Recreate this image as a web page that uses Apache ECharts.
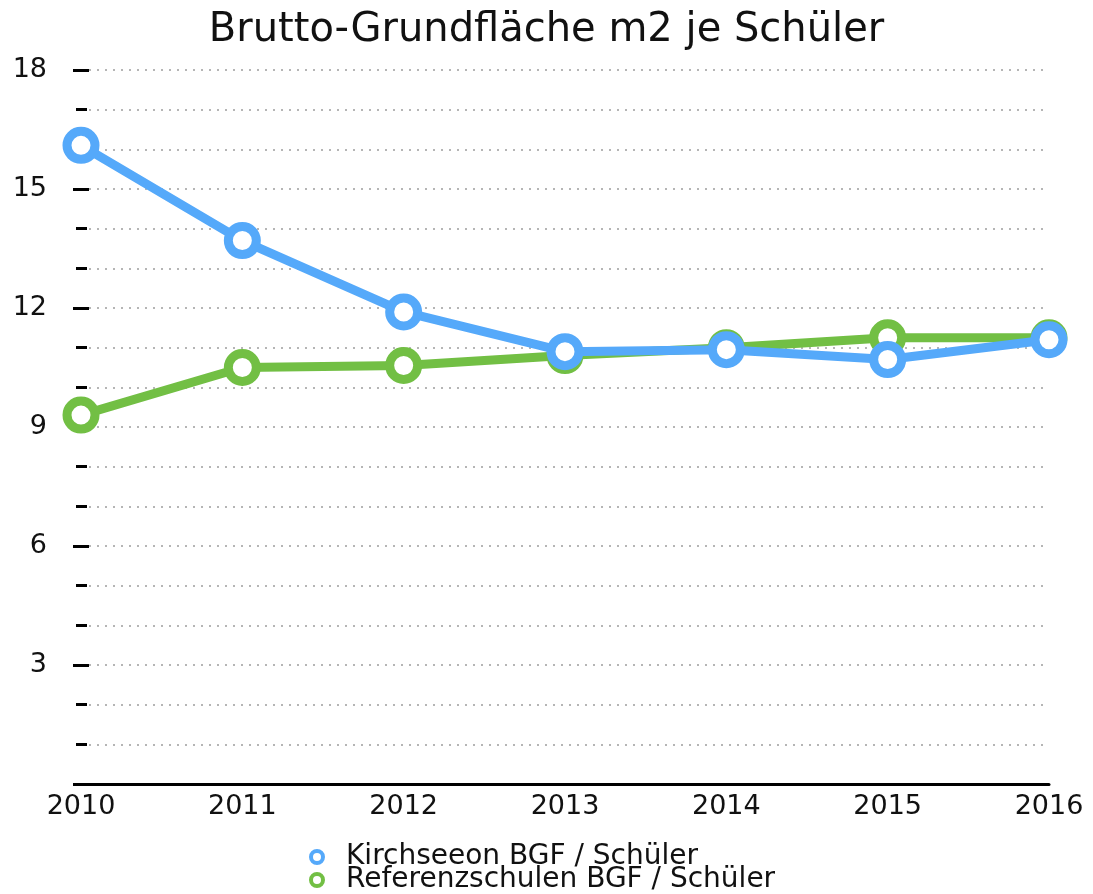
<!DOCTYPE html>
<html>
<head>
<meta charset="utf-8">
<script src="https://cdn.jsdelivr.net/npm/echarts@6/dist/echarts.min.js"></script>
<style>
  html, body { margin: 0; padding: 0; background: #fff; }
  #chart { width: 1093px; height: 894px; }
</style>
</head>
<body>
<div id="chart"></div>
<script>
var years = ["2010", "2011", "2012", "2013", "2014", "2015", "2016"];
var kirchseeon = [16.1, 13.7, 11.9, 10.9, 10.95, 10.7, 11.2];
var referenz = [9.3, 10.5, 10.55, 10.8, 11.0, 11.25, 11.25];
var seriesNames = ["Kirchseeon BGF / Schüler", "Referenzschulen BGF / Schüler"];

var font = "DejaVu Sans";
var blue = "#55a9fa";
var green = "#72bf44";

var chart = echarts.init(document.getElementById("chart"));

// y achsen: 0 = labels + äussere ticks, 1 = innere ticks, 2/3 = kleine ticks + raster
function yAxisPart(interval, inside, len, showLabel, showSplit) {
  return {
    type: "value",
    position: "left",
    min: 0,
    max: 18,
    interval: interval,
    axisLine: { show: false },
    axisTick: { show: true, inside: inside, length: len, lineStyle: { color: "#000", width: 3 } },
    axisLabel: {
      show: showLabel,
      margin: 34,
      color: "#111",
      fontFamily: font,
      fontSize: 27,
      formatter: function (v) { return v === 0 ? "" : v; }
    },
    splitLine: { show: showSplit, lineStyle: { color: "#b5b5b5", width: 2, type: [2, 6] } }
  };
}

// eine legende pro zeile, damit sie untereinander stehen
function legendRow(i, top, color) {
  return {
    left: 309,
    top: top,
    padding: 0,
    itemWidth: 12,
    itemHeight: 12,
    icon: "circle",
    textStyle: { fontFamily: font, fontSize: 28, color: "#111", padding: [0, 0, 0, 18] },
    data: [{ name: seriesNames[i], itemStyle: { color: "#fff", borderColor: color, borderWidth: 4 } }]
  };
}

var option = {
  animation: false,
  title: {
    text: "Brutto-Grundfläche m2 je Schüler",
    left: "center",
    top: 6,
    textStyle: { fontFamily: font, fontWeight: "normal", fontSize: 40, color: "#111" }
  },
  legend: [legendRow(0, 843, blue), legendRow(1, 866, green)],
  grid: { left: 81, right: 44, top: 70, bottom: 110 },
  xAxis: {
    type: "category",
    boundaryGap: false,
    data: years,
    axisLine: { lineStyle: { color: "#000", width: 3 } },
    axisTick: { show: false },
    axisLabel: { margin: 9, color: "#111", fontFamily: font, fontSize: 27 }
  },
  yAxis: [
    yAxisPart(3, false, 8, true, false),
    yAxisPart(3, true, 8, false, false),
    yAxisPart(1, false, 5, false, true),
    yAxisPart(1, true, 6, false, false)
  ],
  series: [
    {
      name: seriesNames[0],
      type: "line",
      data: kirchseeon,
      z: 3,
      symbol: "circle",
      symbolSize: 28,
      lineStyle: { color: blue, width: 9 },
      itemStyle: { color: "#fff", borderColor: blue, borderWidth: 9 }
    },
    {
      name: seriesNames[1],
      type: "line",
      data: referenz,
      z: 2,
      symbol: "circle",
      symbolSize: 28,
      lineStyle: { color: green, width: 9 },
      itemStyle: { color: "#fff", borderColor: green, borderWidth: 9 }
    }
  ]
};

chart.setOption(option);
window.onresize = function () {
  chart.resize();
};
</script>
</body>
</html>
